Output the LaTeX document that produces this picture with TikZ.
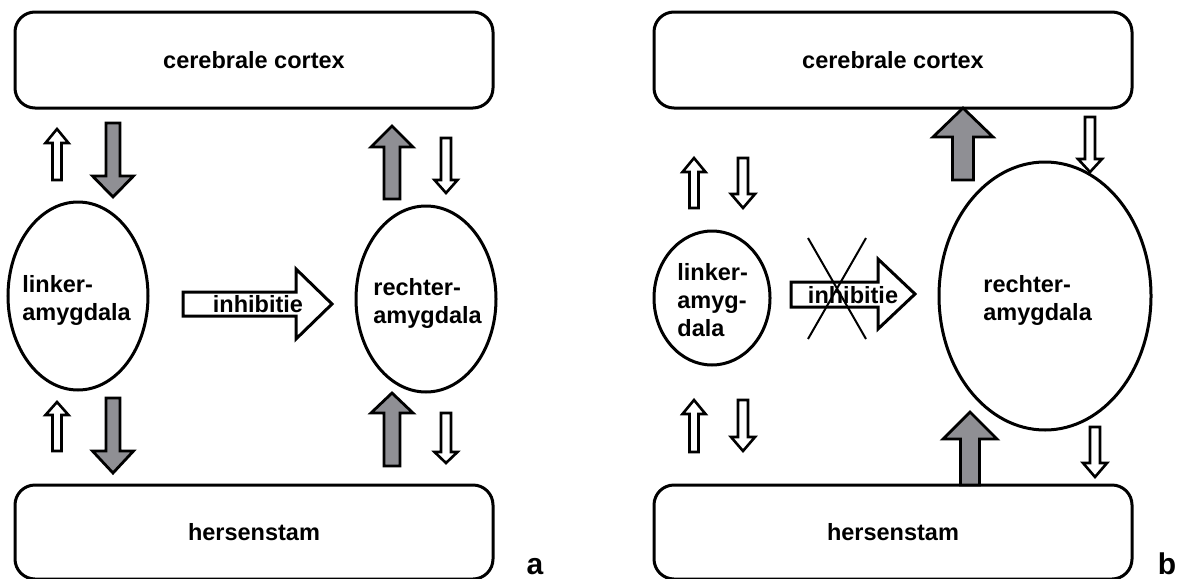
\documentclass[tikz,border=0pt]{standalone}
\usepackage{fontspec}
\setmainfont{Liberation Sans}
\usetikzlibrary{shapes.geometric}
\definecolor{arrowgrey}{RGB}{143,143,148}
\newcommand{\varr}[7]{%
  \draw[#1] ({#2-#5},#4) -- ({#2-#5},#7) -- ({#2-#6},#7) -- (#2,#3) -- ({#2+#6},#7) -- ({#2+#5},#7) -- ({#2+#5},#4) -- cycle;}
\tikzset{
  box/.style={draw, line width=1.5pt, rounded corners=10pt, inner sep=0pt,
    font=\bfseries\fontsize{11.75}{14}\selectfont},
  amyg/.style={draw, ellipse, line width=1.5pt, inner sep=0pt},
  lbl/.style={font=\bfseries\fontsize{11.75}{14}\selectfont, inner sep=0pt, align=left},
  panellbl/.style={font=\bfseries\fontsize{15}{18}\selectfont, inner sep=0pt},
  greyarrow/.style={draw, line width=1.4pt, fill=arrowgrey, line join=miter},
  whitearrow/.style={draw, line width=1.3pt, fill=white, line join=miter},
  crossline/.style={draw, line width=1pt},
}
\begin{document}
\begin{tikzpicture}[x=0.5pt,y=-0.5pt]
\useasboundingbox (0,0) rectangle (1182,578);

% ---------- panel a ----------
\node[box, minimum width=239pt, minimum height=48pt] (cortexA) at (254,60) {cerebrale cortex};
\node[box, minimum width=239pt, minimum height=47pt] (stamA) at (254,532) {hersenstam};
\node[amyg, minimum width=70pt, minimum height=94pt] (leftA) at (78,296) {};
\node[amyg, minimum width=70pt, minimum height=93pt] (rightA) at (426,299) {};
\node[lbl, anchor=west] (leftAt) at (22,300) {linker-\\amygdala};
\node[lbl, anchor=west] (rightAt) at (373,303) {rechter-\\amygdala};

\varr{whitearrow}{57}{129}{180}{4.5}{11.5}{143}
\varr{greyarrow}{113}{197}{123}{7}{20.5}{176}
\varr{greyarrow}{392}{126}{199}{8}{21}{147}
\varr{whitearrow}{446}{193}{138}{5}{11.5}{180}
\varr{whitearrow}{57}{402}{451}{4.5}{11.5}{415}
\varr{greyarrow}{113}{473}{398}{7}{20.5}{451}
\varr{greyarrow}{392}{393}{466}{8}{21}{413}
\varr{whitearrow}{446}{463}{413}{5}{11.5}{452}

\draw[whitearrow, line width=1.5pt] (183,292) -- (296,292) -- (296,269) -- (332,304) -- (296,339) -- (296,316) -- (183,316) -- cycle;
\node[lbl, anchor=base] (inhA) at (258,312) {inhibitie};

\node[panellbl, anchor=base] (labA) at (535,574) {a};

% ---------- panel b ----------
\node[box, minimum width=239pt, minimum height=48pt] (cortexB) at (893,60) {cerebrale cortex};
\node[box, minimum width=239pt, minimum height=47pt] (stamB) at (893,532) {hersenstam};
\node[amyg, minimum width=58pt, minimum height=67pt] (leftB) at (712,298) {};
\node[amyg, minimum width=106pt, minimum height=134pt] (rightB) at (1045,296) {};
\node[lbl, anchor=west] (leftBt) at (677,300) {linker-\\amyg-\\dala};
\node[lbl, anchor=west] (rightBt) at (983,300) {rechter-\\amygdala};

\varr{whitearrow}{694}{158}{208}{4.5}{11.5}{172}
\varr{whitearrow}{743}{208}{158}{5}{12}{194}
\varr{whitearrow}{694}{400}{452}{4.5}{11.5}{414}
\varr{whitearrow}{743}{451}{400}{5}{12}{437}
\varr{greyarrow}{963}{108}{180}{10.5}{30}{137}
\varr{whitearrow}{1090}{172}{117}{5}{12}{159}
\varr{greyarrow}{970}{412}{485}{9.5}{27}{439}
\varr{whitearrow}{1095}{477}{427}{5}{12}{463}

\draw[whitearrow, line width=1.5pt] (791,282) -- (878,282) -- (878,259) -- (915,294) -- (878,329) -- (878,307) -- (791,307) -- cycle;
\node[lbl, anchor=base] (inhB) at (853,303) {inhibitie};
\coordinate (x1) at (808,238);
\coordinate (x2) at (866,339);
\coordinate (x3) at (866,238);
\coordinate (x4) at (808,339);
\draw[crossline] (x1) -- (x2);
\draw[crossline] (x3) -- (x4);

\node[panellbl, anchor=base] (labB) at (1167,574) {b};
\end{tikzpicture}
\end{document}
